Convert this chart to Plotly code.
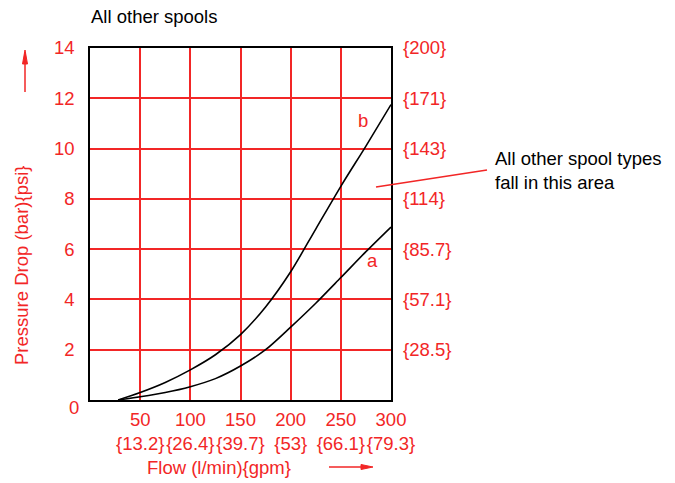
import plotly.graph_objects as go

# Flow (l/min) and pressure drop (bar) for the two spool curves
flow_b = [28, 50, 75, 100, 125, 150, 175, 200, 225, 250, 275, 300]
drop_b = [0.0, 0.3, 0.7, 1.2, 1.8, 2.6, 3.7, 5.1, 6.8, 8.5, 10.1, 11.75]

flow_a = [28, 50, 75, 100, 125, 150, 175, 200, 225, 250, 275, 300]
drop_a = [0.0, 0.13, 0.3, 0.53, 0.85, 1.35, 2.0, 2.9, 3.85, 4.87, 5.9, 6.88]

# Axis ticks
flow_ticks = [50, 100, 150, 200, 250, 300]
gpm_labels = ["{13.2}", "{26.4}", "{39.7}", "{53}", "{66.1}", "{79.3}"]
bar_ticks = [2, 4, 6, 8, 10, 12, 14]
psi_labels = ["{28.5}", "{57.1}", "{85.7}", "{114}", "{143}", "{171}", "{200}"]

RED = "#f22626"
FONT = "Liberation Sans, Arial, sans-serif"
FS = 18.5

fig = go.Figure()
fig.add_trace(go.Scatter(x=flow_b, y=drop_b, mode="lines",
                         line=dict(color="black", width=1.6, shape="spline", smoothing=0.8),
                         showlegend=False, hoverinfo="skip"))
fig.add_trace(go.Scatter(x=flow_a, y=drop_a, mode="lines",
                         line=dict(color="black", width=1.6, shape="spline", smoothing=0.8),
                         showlegend=False, hoverinfo="skip"))
# Invisible trace to carry the psi axis on the right
fig.add_trace(go.Scatter(x=[0], y=[0], yaxis="y2", mode="markers",
                         marker=dict(opacity=0), showlegend=False, hoverinfo="skip"))

fig.update_layout(
    width=675, height=483,
    margin=dict(l=90, r=284, t=48, b=83),
    paper_bgcolor="white", plot_bgcolor="white",
    font=dict(family=FONT, size=FS, color=RED),
    xaxis=dict(range=[0, 300], tickvals=flow_ticks,
               ticktext=[f"{v}<br>{g}" for v, g in zip(flow_ticks, gpm_labels)],
               showgrid=True, gridcolor=RED, gridwidth=1.5, tickangle=0,
               zeroline=False, showline=True, linecolor="black", linewidth=1.5,
               mirror=True, ticks="", ticklabelstandoff=2,
               tickfont=dict(size=FS, color=RED)),
    yaxis=dict(range=[0, 14], tickvals=bar_ticks,
               showgrid=True, gridcolor=RED, gridwidth=1.5,
               zeroline=False, showline=True, linecolor="black", linewidth=1.5,
               mirror=True, ticks="", ticklabelstandoff=10,
               tickfont=dict(size=FS, color=RED)),
    yaxis2=dict(range=[0, 14], overlaying="y", side="right",
                tickvals=bar_ticks, ticktext=psi_labels,
                showgrid=False, zeroline=False, ticks="", ticklabelstandoff=11,
                tickfont=dict(size=FS, color=RED)),
)

ann = []
# "0" on the bar axis, nudged below the corner
ann.append(dict(x=0, y=0, xref="x", yref="y", text="0", showarrow=False,
                xanchor="right", xshift=-9, yshift=-7,
                font=dict(size=FS, color=RED, family=FONT)))
# curve labels
ann.append(dict(x=272, y=11.1, xref="x", yref="y", text="b", showarrow=False,
                font=dict(size=FS, color=RED, family=FONT)))
ann.append(dict(x=282, y=5.55, xref="x", yref="y", text="a", showarrow=False,
                font=dict(size=FS, color=RED, family=FONT)))
# title
ann.append(dict(x=89, y=16, xref="paper", yref="paper", text="All other spools",
                showarrow=False, xanchor="left", yanchor="middle",
                font=dict(size=18.5, color="black", family=FONT)))
# axis titles
ann.append(dict(x=219, y=467, text="Flow (l/min){gpm}", showarrow=False,
                xanchor="center", yanchor="middle",
                font=dict(size=FS, color=RED, family=FONT)))
ann.append(dict(x=21, y=266, text="Pressure Drop (bar){psi}", showarrow=False,
                textangle=-90, xanchor="center", yanchor="middle",
                font=dict(size=FS, color=RED, family=FONT)))
# callout text
ann.append(dict(x=493, y=170, text="All other spool types<br>fall in this area",
                showarrow=False, xanchor="left", yanchor="middle", align="left",
                font=dict(size=18.5, color="black", family=FONT)))

# convert pixel positions to paper coordinates
W, H = 675, 483
pl, pr, pt, pb = 90, 391, 48, 400
for a in ann:
    if a.get("xref") is None:
        a["xref"] = "paper"; a["yref"] = "paper"
    if a["xref"] == "paper":
        a["x"] = (a["x"] - pl) / (pr - pl)
        a["y"] = (pb - a["y"]) / (pb - pt)
fig.update_layout(annotations=ann)

def px(x, y):
    return (x - pl) / (pr - pl), (pb - y) / (pb - pt)

# arrows beside the axis titles and the callout leader
x0, y0 = px(25, 92); x1, y1 = px(25, 52)
fig.add_shape(type="line", xref="paper", yref="paper", x0=x0, y0=y0, x1=x1, y1=y1,
              line=dict(color=RED, width=1.5))
x0, y0 = px(329, 467); x1, y1 = px(364, 467)
fig.add_shape(type="line", xref="paper", yref="paper", x0=x0, y0=y0, x1=x1, y1=y1,
              line=dict(color=RED, width=1.5))
# arrowheads
hx, hy = px(25, 50)
bx1, by1 = px(22.5, 64); bx2, by2 = px(27.5, 64)
fig.add_shape(type="path", xref="paper", yref="paper",
              path=f"M {bx1} {by1} L {hx} {hy} L {bx2} {by2} Z",
              fillcolor=RED, line=dict(color=RED, width=1))
hx, hy = px(373, 467)
bx1, by1 = px(361, 464.5); bx2, by2 = px(361, 469.5)
fig.add_shape(type="path", xref="paper", yref="paper",
              path=f"M {bx1} {by1} L {hx} {hy} L {bx2} {by2} Z",
              fillcolor=RED, line=dict(color=RED, width=1))
x0, y0 = px(376, 187); x1, y1 = px(487, 170)
fig.add_shape(type="line", xref="paper", yref="paper", x0=x0, y0=y0, x1=x1, y1=y1,
              line=dict(color=RED, width=1.5))

fig.write_html("out.html")
